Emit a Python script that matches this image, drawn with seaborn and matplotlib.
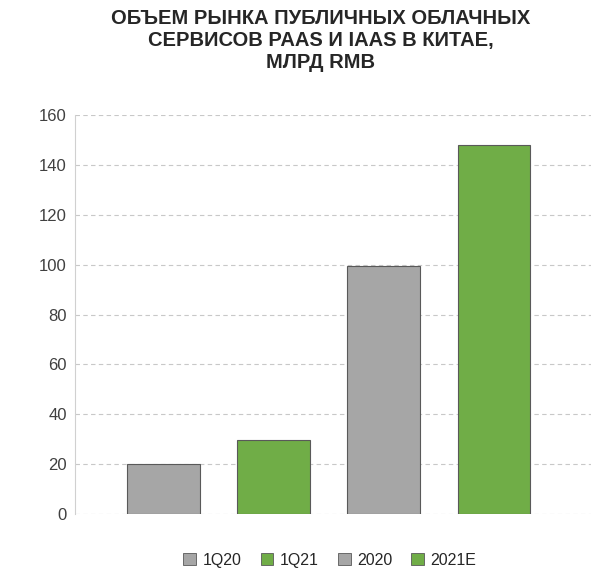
import matplotlib
matplotlib.use("Agg")
import matplotlib.pyplot as plt
import seaborn as sns
import pandas as pd
from matplotlib.patches import Patch

categories = ["1Q20", "1Q21", "2020", "2021E"]
values = [20, 29.5, 99.5, 148]
colors = ["#a6a6a6", "#70ad47", "#a6a6a6", "#70ad47"]

sns.set_style("white")
plt.rcParams['font.family'] = ['Liberation Sans', 'DejaVu Sans']

df = pd.DataFrame({"cat": categories, "val": values})

fig = plt.figure(figsize=(6, 5.82), dpi=100)
ax = fig.add_axes([0.125, 0.117, 0.86, 0.685])
sns.barplot(data=df, x="cat", y="val", hue="cat", palette=colors, legend=False,
            width=0.66, saturation=1, edgecolor="#595959", linewidth=0.8, ax=ax)

ax.set_xlim(-0.8, 3.88)
ax.set_ylim(0, 160)
ax.set_yticks(range(0, 161, 20))
ax.yaxis.grid(True, linestyle=(0, (4, 3)), color="#c8c8c8", linewidth=0.8)
ax.set_axisbelow(True)
ax.set_xticks([])
ax.set_xlabel("")
ax.set_ylabel("")
ax.tick_params(axis="y", labelsize=12, colors="#404040", length=0, pad=6)
for s in ["top", "right", "bottom"]:
    ax.spines[s].set_visible(False)
ax.spines["left"].set_color("#d0d0d0")

fig.text(0.535, 0.985, "ОБЪЕМ РЫНКА ПУБЛИЧНЫХ ОБЛАЧНЫХ\nСЕРВИСОВ PAAS И IAAS В КИТАЕ,\nМЛРД RMB",
         ha="center", va="top", fontsize=14.5, fontweight="bold", linespacing=1.2)

handles = [Patch(facecolor=c, edgecolor="#595959", linewidth=0.6) for c in colors]
fig.legend(handles, categories, loc="lower center", bbox_to_anchor=(0.55, 0.0),
           ncol=4, frameon=False, fontsize=11.5, handlelength=0.8, handleheight=0.8,
           columnspacing=1.2, handletextpad=0.4)

fig.savefig("out.png", dpi=100)
